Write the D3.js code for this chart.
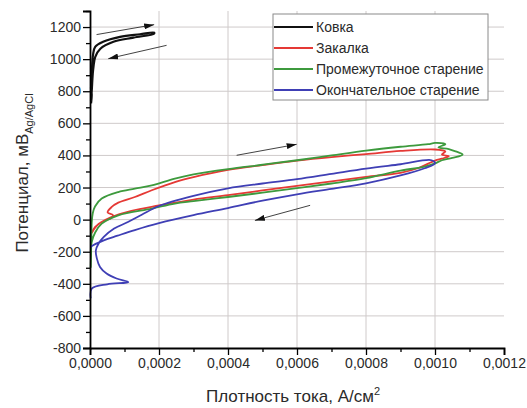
<!DOCTYPE html>
<html>
<head>
<meta charset="utf-8">
<script src="https://cdn.jsdelivr.net/npm/d3@7"></script>
<style>
    body { margin: 0; background: #fff; }
    svg { font-family: "Liberation Sans", Arial, sans-serif; }
</style>
</head>
<body>
<div id="chart"></div>
<script>
// current density (A/cm2), potential (mV vs Ag/AgCl)
const kovka = [
    [0.000003, 725], [0.000005, 780], [0.000003, 820], [0.000006, 880], [0.000006, 950],
    [0.000009, 1030], [0.000015, 1077], [0.000038, 1108], [0.000087, 1139], [0.000145, 1155], [0.000186, 1165],
    [0.000186, 1159], [0.000126, 1134], [0.000068, 1108], [0.00003, 1065], [0.000015, 1013],
    [0.00001, 951], [0.000008, 910], [0.000005, 800], [0.000003, 740]
];

const zakalka = [
    [0.000005, -83], [0.0000145, -46], [0.000043, -4], [0.000058, 6], [0.000067, 27], [0.000051, 45],
    [0.000063, 79], [0.000082, 106], [0.00013, 141], [0.000179, 183], [0.000246, 234], [0.0003, 265],
    [0.0004, 310], [0.0005, 340], [0.0006, 368], [0.0007, 390], [0.0008, 408], [0.0009, 428],
    [0.001, 437], [0.00103, 425], [0.00102, 405], [0.00104, 395], [0.00102, 380],
    [0.001, 368], [0.00095, 320], [0.0009, 292], [0.0008, 266], [0.0007, 238], [0.0006, 210],
    [0.0005, 182], [0.0004, 152], [0.0003, 125], [0.0002, 88], [0.00012, 55], [0.00006, 15],
    [0.00003, -20], [0.000015, -50], [0.000005, -83]
];

const promezh = [
    [0.000002, -300], [0.000003, -220], [0.000004, -120], [0.000005, -20], [0.000008, 40],
    [0.0000145, 82], [0.000034, 131], [0.000082, 172], [0.00013, 193], [0.000179, 214], [0.000246, 256],
    [0.0003, 282], [0.0004, 315], [0.0005, 342], [0.0006, 370], [0.0007, 400], [0.0008, 430],
    [0.0009, 454], [0.00098, 470], [0.001, 478], [0.00103, 470], [0.00101, 450], [0.00104, 440],
    [0.00106, 425], [0.00108, 405],
    [0.00105, 385], [0.00102, 370], [0.001, 350], [0.00097, 330], [0.0009, 305], [0.0008, 258],
    [0.0007, 225], [0.0006, 196], [0.0005, 168], [0.0004, 141], [0.0003, 115], [0.000246, 100],
    [0.000179, 69], [0.000082, 27], [0.000034, -25], [0.000015, -80], [0.000005, -140], [0.000003, -190]
];

const okonch = [
    [0.000002, -490], [0.000005, -430], [0.00005, -403], [0.000111, -389], [0.000077, -367], [0.000048, -336],
    [0.000029, -295], [0.00002, -243], [0.000017, -191], [0.000025, -149], [0.00004, -108],
    [0.00007, -56], [0.00011, -15], [0.00015, 30], [0.0002, 85], [0.0003, 148], [0.0004, 195],
    [0.0005, 225], [0.0006, 252], [0.0007, 285], [0.0008, 318], [0.0009, 345], [0.00099, 370],
    [0.001, 350], [0.00097, 320], [0.0009, 275], [0.0008, 226], [0.0007, 192], [0.0006, 158],
    [0.0005, 118], [0.0004, 72], [0.0003, 28], [0.0002, -22], [0.00013, -65], [0.00008, -100],
    [0.00004, -129], [0.000005, -165], [0.000002, -175]
];

const seriesNames = ['Ковка', 'Закалка', 'Промежуточное старение', 'Окончательное старение'];
const seriesData = [kovka, zakalka, promezh, okonch];
const seriesColors = ['#111111', '#e53935', '#3d9a3d', '#3f3fb5'];

const xTicks = [0, 0.0002, 0.0004, 0.0006, 0.0008, 0.0010, 0.0012];
const yTicks = [-800, -600, -400, -200, 0, 200, 400, 600, 800, 1000, 1200];

// scan direction arrows
const arrows = [
    { from: [0.000019, 1153], to: [0.000186, 1215] },
    { from: [0.000222, 1086], to: [0.000053, 1003] },
    { from: [0.000425, 401], to: [0.000599, 469] },
    { from: [0.000638, 89], to: [0.000478, -5] }
];

const width = 527;
const height = 408;
const margin = { top: 11, left: 90, right: 23, bottom: 60 };

const svg = d3.select('#chart')
    .append('svg')
    .attr('width', width)
    .attr('height', height);

const x = d3.scaleLinear()
    .domain([0, 0.0012])
    .range([margin.left, width - margin.right]);

const y = d3.scaleLinear()
    .domain([-800, 1300])
    .range([height - margin.bottom, margin.top]);

// grid
svg.append('g')
    .selectAll('line')
    .data(yTicks.filter(d => d > -800))
    .join('line')
    .attr('x1', x(0)).attr('x2', x(0.0012))
    .attr('y1', d => y(d)).attr('y2', d => y(d))
    .attr('stroke', '#cfcaca').attr('stroke-width', 1);

svg.append('g')
    .selectAll('line')
    .data(xTicks.filter(d => d > 0 && d < 0.0012))
    .join('line')
    .attr('x1', d => x(d)).attr('x2', d => x(d))
    .attr('y1', y(1300)).attr('y2', y(-800))
    .attr('stroke', '#cfcaca').attr('stroke-width', 1);

// curves
const line = d3.line()
    .x(d => x(d[0]))
    .y(d => y(d[1]))
    .curve(d3.curveCatmullRom.alpha(0.5));

svg.append('g')
    .selectAll('path')
    .data(seriesData)
    .join('path')
    .attr('d', line)
    .attr('fill', 'none')
    .attr('stroke', (d, i) => seriesColors[i])
    .attr('stroke-width', (d, i) => i === 0 ? 2.2 : 1.8)
    .attr('stroke-linejoin', 'round');

// arrows
svg.append('defs')
    .append('marker')
    .attr('id', 'head')
    .attr('viewBox', '0 0 10 6')
    .attr('refX', 10).attr('refY', 3)
    .attr('markerWidth', 10).attr('markerHeight', 6)
    .attr('markerUnits', 'userSpaceOnUse')
    .attr('orient', 'auto')
    .append('path')
    .attr('d', 'M0,0 L10,3 L0,6 Z')
    .attr('fill', '#111');

svg.append('g')
    .selectAll('line')
    .data(arrows)
    .join('line')
    .attr('x1', d => x(d.from[0])).attr('y1', d => y(d.from[1]))
    .attr('x2', d => x(d.to[0])).attr('y2', d => y(d.to[1]))
    .attr('stroke', '#111').attr('stroke-width', 0.8)
    .attr('marker-end', 'url(#head)');

// axes
const fmtX = d => d3.format('.4f')(d).replace('.', ',');
const fmtY = d => String(d);

const xAxis = g => g
    .attr('transform', `translate(0, ${y(-800)})`)
    .call(d3.axisBottom(x).tickValues(xTicks).tickFormat(fmtX).tickSize(7).tickPadding(3))
    .call(g => g.selectAll('text').attr('font-size', '14px').attr('fill', '#2a2a2a'));

const xMinor = g => g
    .attr('transform', `translate(0, ${y(-800)})`)
    .call(d3.axisBottom(x).tickValues(d3.range(1, 12, 2).map(d => d * 0.0001)).tickFormat('').tickSize(4))
    .call(g => g.select('.domain').remove());

const yAxis = g => g
    .attr('transform', `translate(${x(0)}, 0)`)
    .call(d3.axisLeft(y).tickValues(yTicks).tickFormat(fmtY).tickSize(7).tickPadding(2))
    .call(g => g.selectAll('text').attr('font-size', '14px').attr('fill', '#2a2a2a'));

const yMinor = g => g
    .attr('transform', `translate(${x(0)}, 0)`)
    .call(d3.axisLeft(y).tickValues(d3.range(-700, 1400, 200)).tickFormat('').tickSize(4))
    .call(g => g.select('.domain').remove());

svg.append('g').call(xMinor);
svg.append('g').call(yMinor);
svg.append('g').call(xAxis);
svg.append('g').call(yAxis);

svg.selectAll('.domain').attr('stroke-width', 1.8);
svg.selectAll('.tick line').attr('stroke-width', 1.3);

// axis titles
const xTitle = svg.append('text')
    .attr('x', 293)
    .attr('y', 402)
    .attr('text-anchor', 'middle')
    .attr('font-size', '17px')
    .attr('fill', '#2a2a2a')
    .text('Плотность тока, А/см');
xTitle.append('tspan')
    .attr('font-size', '11px')
    .attr('dy', -7)
    .text('2');

const yTitle = svg.append('text')
    .attr('transform', 'translate(28, 173) rotate(-90)')
    .attr('text-anchor', 'middle')
    .attr('font-size', '17px')
    .attr('fill', '#2a2a2a')
    .text('Потенциал, мВ');
yTitle.append('tspan')
    .attr('font-size', '11px')
    .attr('dy', 5)
    .text('Ag/AgCl');

// legend
const legend = svg.append('g')
    .attr('transform', 'translate(273, 14)');

legend.append('rect')
    .attr('width', 215)
    .attr('height', 86)
    .attr('fill', '#fff')
    .attr('stroke', '#8a8a8a')
    .attr('stroke-width', 1);

const rows = legend.selectAll('g')
    .data(seriesNames)
    .join('g')
    .attr('transform', (d, i) => `translate(0, ${13 + i * 21})`);

rows.append('line')
    .attr('x1', 1).attr('x2', 40)
    .attr('stroke', (d, i) => seriesColors[i])
    .attr('stroke-width', 2);

rows.append('text')
    .attr('x', 43)
    .attr('dy', '0.35em')
    .attr('font-size', '14px')
    .attr('fill', '#2a2a2a')
    .text(d => d);
</script>
</body>
</html>
